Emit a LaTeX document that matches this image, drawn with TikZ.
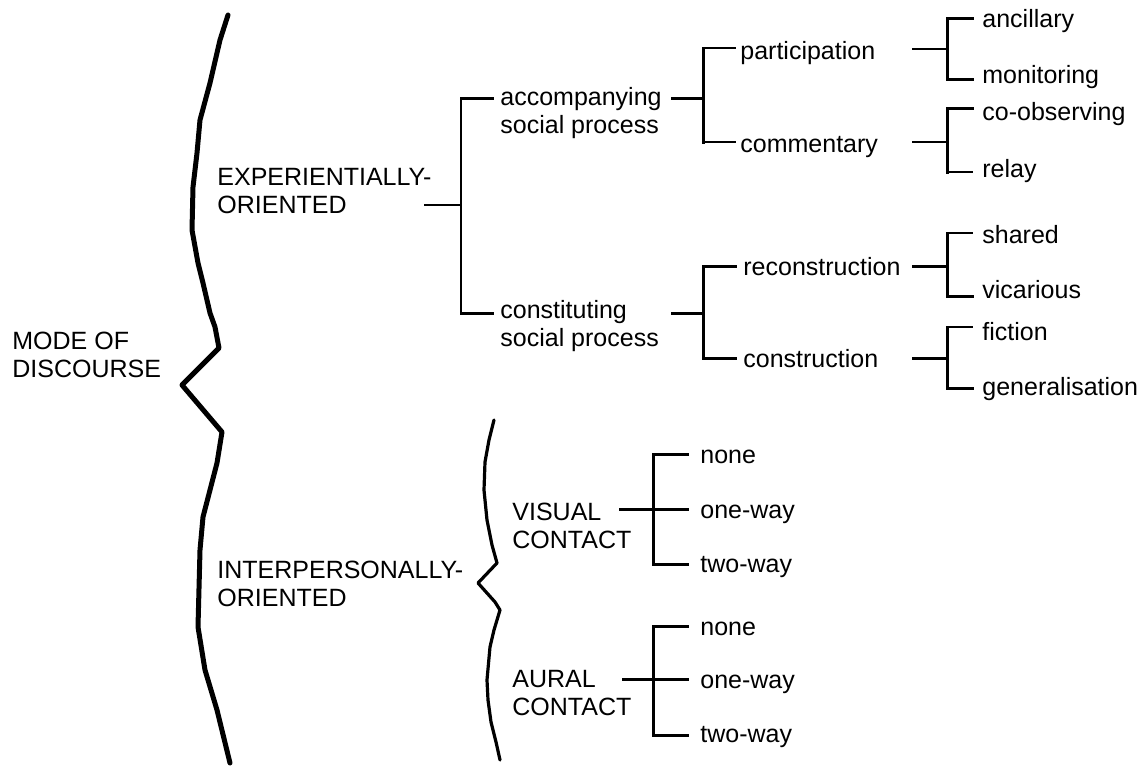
\documentclass[tikz,border=0pt]{standalone}
\usepackage{fontspec}
\setmainfont{Liberation Sans}
\begin{document}
\begin{tikzpicture}[x=0.5pt,y=-0.5pt,
  txt/.style={inner sep=0pt,anchor=base west,align=left,font=\fontsize{12.5pt}{14pt}\selectfont},
  thinline/.style={line width=0.75pt,line cap=rect},
  thickline/.style={line width=1.5pt,line cap=rect},
  brace/.style={line width=2.5pt,line join=round,line cap=round},
  smallbrace/.style={line width=1.6pt,line join=round,line cap=round}]
   \useasboundingbox (0,0) rectangle (1141,768);

   % labels (two-line ones sit on their second baseline)
   \node[txt] (mode) at (12,377) {MODE OF\\DISCOURSE};
   \node[txt] (exper) at (217,213) {EXPERIENTIALLY-\\ORIENTED};
   \node[txt] (inter) at (217,606) {INTERPERSONALLY-\\ORIENTED};
   \node[txt] (accomp) at (500,133) {accompanying\\social process};
   \node[txt] (constit) at (500,346) {constituting\\social process};
   \node[txt] (partic) at (740,59) {participation};
   \node[txt] (comment) at (740,152) {commentary};
   \node[txt] (recon) at (743,275) {reconstruction};
   \node[txt] (constr) at (743,367) {construction};
   \node[txt] (ancil) at (982,27) {ancillary};
   \node[txt] (monit) at (982,83) {monitoring};
   \node[txt] (coobs) at (982,120) {co-observing};
   \node[txt] (relay) at (982,177) {relay};
   \node[txt] (shared) at (982,243) {shared};
   \node[txt] (vicar) at (982,298) {vicarious};
   \node[txt] (fict) at (982,340) {fiction};
   \node[txt] (gener) at (982,395) {generalisation};
   \node[txt] (visual) at (512,548) {VISUAL\\CONTACT};
   \node[txt] (aural) at (512,715) {AURAL\\CONTACT};
   \node[txt] (vnone) at (700,463) {none};
   \node[txt] (vone) at (700,518) {one-way};
   \node[txt] (vtwo) at (700,572) {two-way};
   \node[txt] (anone) at (700,635) {none};
   \node[txt] (aone) at (700,688) {one-way};
   \node[txt] (atwo) at (700,742) {two-way};

   % big brace
   \draw[brace] (228,15) -- (220,40) -- (210,83) -- (200,120) -- (197,153)
     -- (193,187) -- (192,230) -- (198,263) -- (203,283) -- (210,313)
     -- (215,327) -- (219,348) -- (182,385) -- (222,432) -- (217,463)
     -- (210,490) -- (203,517) -- (200,550) -- (198,627) -- (205,670)
     -- (217,710) -- (230,763);

   % small brace
   \draw[smallbrace] (494,420) -- (489,440) -- (485,462) -- (484,490)
     -- (487,520) -- (492,545) -- (497,563) -- (478,583) -- (495,602)
     -- (500,610) -- (494,630) -- (490,647) -- (487,680) -- (488,700)
     -- (491,722) -- (496,742) -- (500,760);

   % experientially-oriented
   \coordinate (e-in) at (425,205);
   \coordinate (e-top) at (461,98);
   \coordinate (e-bot) at (461,313);
   \draw[thinline] (e-in) -- (e-in -| e-top);
   \draw[thinline] (e-top) -- (e-bot);
   \draw[thickline] (e-top) -- ([xshift=-4pt]accomp.west |- e-top);
   \draw[thickline] (e-bot) -- ([xshift=-4pt]constit.west |- e-bot);

   % accompanying
   \coordinate (a-in) at (672,98);
   \coordinate (a-top) at (703,48);
   \coordinate (a-bot) at (703,142);
   \draw[thickline] (a-in) -- (a-in -| a-top);
   \draw[thickline] (a-top) -- (a-bot);
   \draw[thinline] (a-top) -- ([xshift=-2.5pt]partic.west |- a-top);
   \draw[thinline] (a-bot) -- ([xshift=-2.5pt]comment.west |- a-bot);

   % participation
   \coordinate (p-in) at (913,49);
   \coordinate (p-top) at (947,18);
   \coordinate (p-bot) at (947,79);
   \draw[thinline] (p-in) -- (p-in -| p-top);
   \draw[thickline] (p-top) -- (p-bot);
   \draw[thickline] (p-top) -- ([xshift=-5pt]ancil.west |- p-top);
   \draw[thickline] (p-bot) -- ([xshift=-5pt]monit.west |- p-bot);

   % commentary
   \coordinate (c-in) at (913,142);
   \coordinate (c-top) at (947,108);
   \coordinate (c-bot) at (947,172);
   \draw[thinline] (c-in) -- (c-in -| c-top);
   \draw[thickline] (c-top) -- (c-bot);
   \draw[thickline] (c-top) -- ([xshift=-5pt]coobs.west |- c-top);
   \draw[thinline] (c-bot) -- ([xshift=-5pt]relay.west |- c-bot);

   % constituting
   \coordinate (k-in) at (672,313);
   \coordinate (k-top) at (703,266);
   \coordinate (k-bot) at (703,358);
   \draw[thickline] (k-in) -- (k-in -| k-top);
   \draw[thickline] (k-top) -- (k-bot);
   \draw[thickline] (k-top) -- ([xshift=-4pt]recon.west |- k-top);
   \draw[thickline] (k-bot) -- ([xshift=-4pt]constr.west |- k-bot);

   % reconstruction
   \coordinate (r-in) at (913,266);
   \coordinate (r-top) at (947,233);
   \coordinate (r-bot) at (947,296);
   \draw[thickline] (r-in) -- (r-in -| r-top);
   \draw[thickline] (r-top) -- (r-bot);
   \draw[thinline] (r-top) -- ([xshift=-5pt]shared.west |- r-top);
   \draw[thickline] (r-bot) -- ([xshift=-5pt]vicar.west |- r-bot);

   % construction
   \coordinate (s-in) at (913,358);
   \coordinate (s-top) at (947,327);
   \coordinate (s-bot) at (947,388);
   \draw[thickline] (s-in) -- (s-in -| s-top);
   \draw[thickline] (s-top) -- (s-bot);
   \draw[thinline] (s-top) -- ([xshift=-5pt]fict.west |- s-top);
   \draw[thickline] (s-bot) -- ([xshift=-5pt]gener.west |- s-bot);

   % visual contact
   \coordinate (v-in) at (620,509);
   \coordinate (v-top) at (653,454);
   \coordinate (v-bot) at (653,564);
   \draw[thickline] (v-in) -- ([xshift=-6.5pt]vone.west |- v-in);
   \draw[thickline] (v-top) -- (v-bot);
   \draw[thickline] (v-top) -- ([xshift=-6.5pt]vnone.west |- v-top);
   \draw[thickline] (v-bot) -- ([xshift=-6.5pt]vtwo.west |- v-bot);

   % aural contact
   \coordinate (u-in) at (623,679);
   \coordinate (u-top) at (653,626);
   \coordinate (u-bot) at (653,735);
   \draw[thickline] (u-in) -- ([xshift=-6.5pt]aone.west |- u-in);
   \draw[thickline] (u-top) -- (u-bot);
   \draw[thickline] (u-top) -- ([xshift=-6.5pt]anone.west |- u-top);
   \draw[thickline] (u-bot) -- ([xshift=-6.5pt]atwo.west |- u-bot);
\end{tikzpicture}
\end{document}
